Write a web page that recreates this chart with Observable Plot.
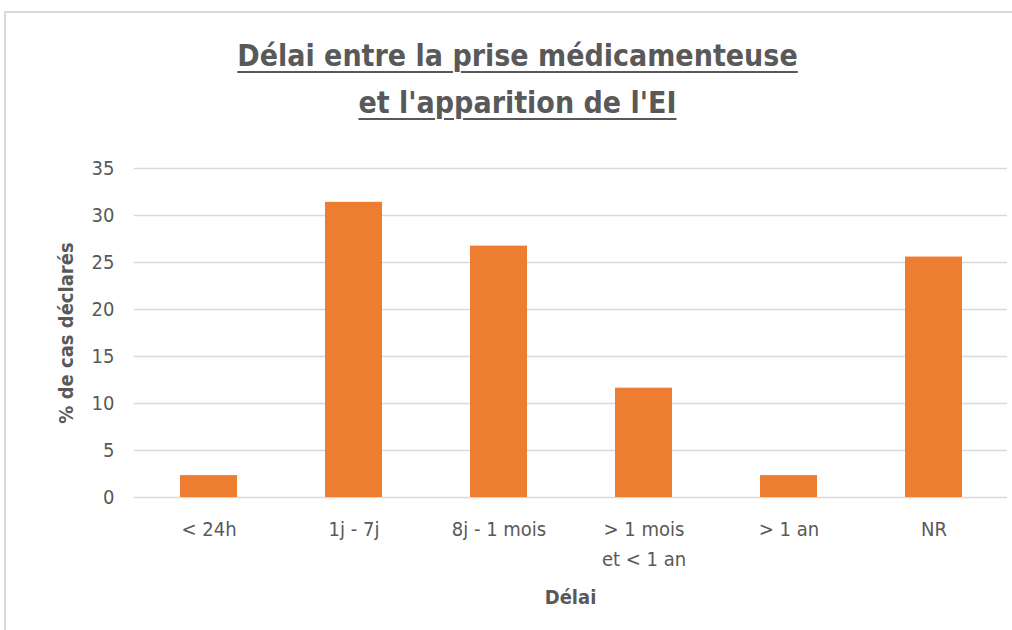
<!DOCTYPE html>
<html>
<head>
<meta charset="utf-8">
<script src="https://cdn.jsdelivr.net/npm/d3@7"></script>
<script src="https://cdn.jsdelivr.net/npm/@observablehq/plot@0.6"></script>
<style>
  html, body { margin: 0; padding: 0; background: #fff; }
  #page { position: relative; width: 1012px; height: 630px; overflow: hidden; font-family: "DejaVu Sans Condensed", "DejaVu Sans", sans-serif; color: #595959; }
  #frame { position: absolute; left: 4px; top: 11px; width: 1100px; height: 700px; border-top: 2px solid #d9d9d9; border-left: 2px solid #d9d9d9; box-sizing: border-box; }
  #title { position: absolute; left: 0; top: 32px; width: 1035px; text-align: center; font-size: 30px; font-weight: bold; line-height: 47px; text-decoration: underline; text-decoration-thickness: 2px; text-underline-offset: 5px; }
  #chart { position: absolute; left: 0; top: 140px; }
  #chart svg { overflow: visible; }
</style>
</head>
<body>
<div id="page">
  <div id="frame"></div>
  <div id="title">Délai entre la prise médicamenteuse<br>et l'apparition de l'EI</div>
  <div id="chart"></div>
</div>
<script>
const categories = ["< 24h", "1j - 7j", "8j - 1 mois", "> 1 mois et < 1 an", "> 1 an", "NR"];
const values = [2.33, 31.40, 26.74, 11.63, 2.33, 25.58];
const yTicks = [0, 5, 10, 15, 20, 25, 30, 35];
const xLabel = "Délai";
const yLabel = "% de cas déclarés";

const data = categories.map((c, i) => ({cat: c, val: values[i]}));

const chart = Plot.plot({
  width: 1012,
  height: 490,
  marginTop: 28,
  marginBottom: 133,
  marginLeft: 134,
  marginRight: 5,
  style: {fontFamily: '"DejaVu Sans Condensed", "DejaVu Sans", sans-serif', fontSize: "20px", color: "#595959", background: "transparent"},
  x: {domain: categories, paddingInner: 0.61, paddingOuter: 0.305},
  y: {domain: [0, 35]},
  marks: [
    Plot.gridY(yTicks, {stroke: "#d9d9d9", strokeOpacity: 1, strokeWidth: 1.5}),
    Plot.barY(data, {x: "cat", y: "val", fill: "#ED7D31"}),
    Plot.axisY(yTicks, {tickSize: 0, tickPadding: 20, fontSize: 20, label: yLabel, labelAnchor: "center", labelOffset: 76, labelArrow: "none"}),
    Plot.axisX({tickSize: 0, tickPadding: 17, fontSize: 20, lineHeight: 1.5, tickFormat: d => d.replace(" et ", "\net "), label: null})
  ]
});
document.getElementById("chart").appendChild(chart);
const svg = d3.select(chart);
svg.selectAll("[aria-label='y-axis label'] text, [aria-label='y-axis label']").style("font-weight", "bold").style("font-size", "20px");
svg.append("text")
  .attr("x", (134 + 1007) / 2)
  .attr("y", 464)
  .attr("text-anchor", "middle")
  .attr("fill", "#595959")
  .style("font-weight", "bold")
  .style("font-size", "20px")
  .text(xLabel);
</script>
</body>
</html>
